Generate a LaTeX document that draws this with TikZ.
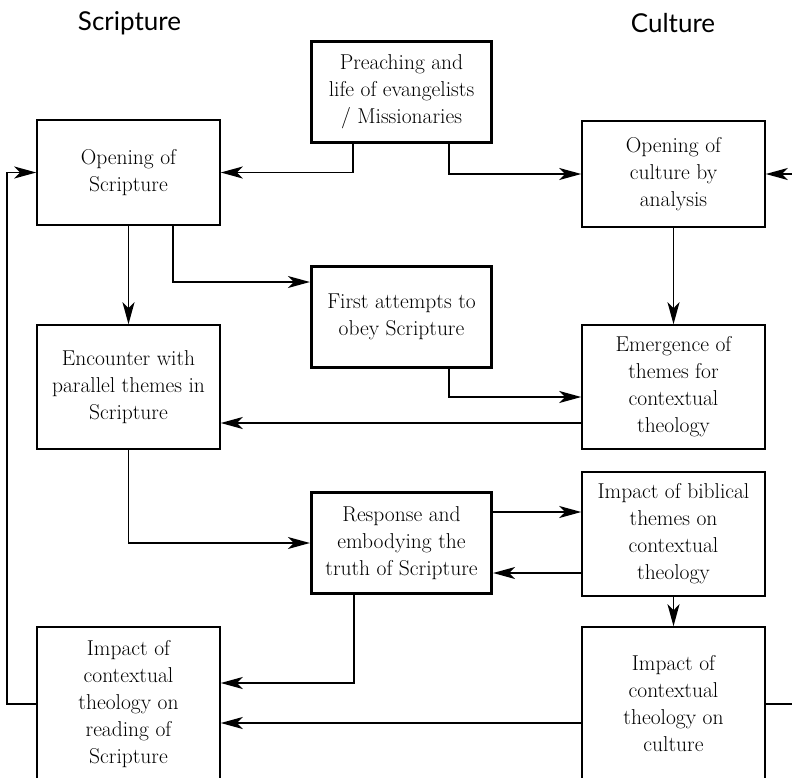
\documentclass[tikz,border=0pt]{standalone}
\usepackage{fontspec}
\setsansfont{Lato}
\usetikzlibrary{arrows.meta}
\tikzset{colbox/.style={draw,line width=1.5pt,minimum width=183pt,align=center,inner sep=0pt,font=\fontsize{21.5}{27}\selectfont},
midbox/.style={colbox,line width=3.2pt,minimum width=180pt,minimum height=101pt},
head/.style={font=\sffamily\fontsize{26}{30}\selectfont},
arrow/.style = {-{Stealth[length=22pt,width=12pt,inset=6pt]},line width=1.6pt}}

\begin{document}
\begin{tikzpicture}[x=1pt,y=1pt]
\useasboundingbox (0,0) rectangle (792,-777);
\clip (0,0) rectangle (792,-777);
\node[head] (lhead) at (129.5,-23) {Scripture};
\node[head] (rhead) at (673,-23) {Culture};

\node[midbox] (preach) at (401.5,-92) {Preaching and \\ life of evangelists \\ / Missionaries};
\node[colbox,minimum height=105pt] (sopen) at (128.5,-172.5) {Opening of \\ Scripture};
\node[colbox,minimum height=106pt] (copen) at (673.5,-174) {Opening of \\ culture by \\ analysis};
\node[midbox] (first) at (401.5,-317) {First attempts to \\ obey Scripture};
\node[colbox,minimum height=124pt] (meet) at (128.5,-387) {Encounter with \\ parallel themes in \\ Scripture};
\node[colbox,minimum height=124pt] (emerge) at (673.5,-387) {Emergence of \\ themes for \\ contextual \\ theology};
\node[midbox] (resp) at (401.5,-543) {Response and \\ embodying the \\ truth of Scripture};
\node[colbox,minimum height=124pt] (bibl) at (673.5,-534) {Impact of biblical \\ themes on \\ contextual \\ theology};
\node[colbox,minimum height=154pt] (simpact) at (128.5,-704) {Impact of \\ contextual \\ theology on \\ reading of \\ Scripture};
\node[colbox,minimum height=154pt] (cimpact) at (673.5,-704) {Impact of \\ contextual \\ theology on \\ culture};

\draw[arrow] ([xshift=-48.5pt]preach.south) |- (sopen);
\draw[arrow] ([xshift=47.5pt]preach.south) |- (copen);

\draw[arrow] (sopen) -- (meet);
\draw[arrow] ([xshift=44.5pt]sopen.south) |- ([yshift=35pt]first.west);
\draw[arrow] (copen) -- (emerge);

\draw[arrow] ([xshift=47.5pt]first.south) |- ([yshift=-10pt]emerge.west);
\draw[arrow] ([yshift=-36pt]emerge.west) -- ([yshift=-36pt]meet.east);

\draw[arrow] (meet) |- (resp);
\draw[arrow] ([yshift=31pt]resp.east) -- ([yshift=22pt]bibl.west);
\draw[arrow] ([yshift=-39pt]bibl.west) -- ([yshift=-30pt]resp.east);
\draw[arrow] (bibl) -- (cimpact);

\draw[arrow] ([xshift=-47.5pt]resp.south) |- ([yshift=21pt]simpact.east);
\draw[arrow] ([yshift=-19pt]cimpact.west) -- ([yshift=-19pt]simpact.east);

\draw[arrow] (simpact.west) -- ++(-29,0) |- (sopen.west);
\draw[arrow] (cimpact.east) -- ++(40,0) |- (copen.east);
\end{tikzpicture}
\end{document}
